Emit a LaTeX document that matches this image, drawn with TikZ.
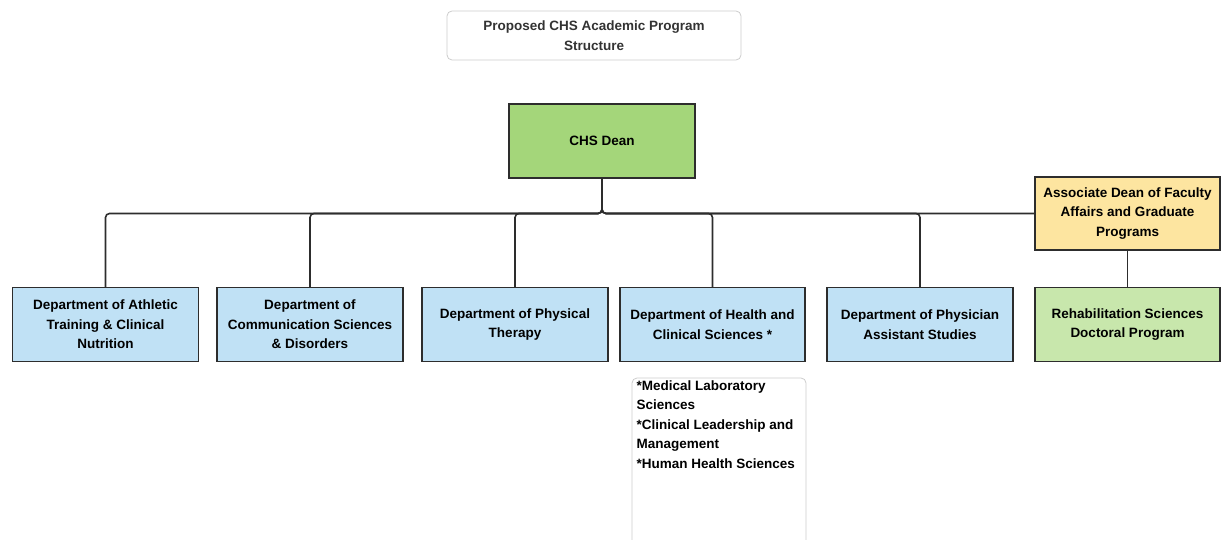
\documentclass[tikz,border=0pt]{standalone}
\usepackage{fontspec}
\setmainfont{Liberation Sans}
\usepackage{tikz}
\definecolor{deptblue}{RGB}{192,225,245}
\definecolor{deangreen}{RGB}{164,214,122}
\definecolor{progreen}{RGB}{200,231,172}
\definecolor{assocyellow}{RGB}{253,229,160}
\definecolor{edge}{RGB}{45,45,45}

\begin{document}
\begin{tikzpicture}[x = 1pt, y = -1pt, line width = 1.3pt,
                        every node/.style = {font = \fontsize{13.5}{19.5}\selectfont\bfseries, align = center},
                        unit/.style = {rectangle, draw = edge, minimum width = 186pt, minimum height = 74pt, inner sep = 2pt},
                        dept/.style = {unit, fill = deptblue},
                        link/.style = {draw = edge, line width = 1.6pt, rounded corners = 4pt},
                        note/.style = {rectangle, rounded corners = 5pt, draw = black!20, line width = 0.8pt}]
    \useasboundingbox (0, 0) rectangle (1223, 540);
    \node [note, text = black!80, minimum width = 294pt, minimum height = 49pt] (title) at (594, 35.5)
        {Proposed CHS Academic Program\\Structure};
    \node [unit, fill = deangreen] (dean) at (602, 141){CHS Dean};
    \node [unit, fill = assocyellow, minimum width = 185pt, minimum height = 73pt] (assoc) at (1127.5, 213.5)
        {Associate Dean of Faculty\\Affairs and Graduate\\Programs};
    \node [dept] (athl) at (105.5, 324.5){Department of Athletic\\Training \& Clinical\\Nutrition};
    \node [dept] (comm) at (310, 324.5){Department of\\Communication Sciences\\\& Disorders};
    \node [dept] (pt) at (515, 324.5){Department of Physical\\Therapy};
    \node [dept, minimum width = 185pt] (hlth) at (712.5, 324.5){Department of Health and\\Clinical Sciences *};
    \node [dept] (pa) at (920, 324.5){Department of Physician\\Assistant Studies};
    \node [unit, fill = progreen, minimum width = 185pt] (rehab) at (1127.5, 324.5)
        {Rehabilitation Sciences\\Doctoral Program};
    \node [note, minimum width = 174pt, minimum height = 172pt] (sub) at (719, 464){};
    \node [anchor = north west, align = left, inner sep = 0pt] (subtext) at (636, 380)
        {*Medical Laboratory\\Sciences\\*Clinical Leadership and\\Management\\*Human Health Sciences};
    \coordinate (trunk) at (602, 213.5);
    \foreach \d in {athl, comm, pt, hlth, pa}
        \draw [link] (dean.south) -- (dean.south |- trunk) -| (\d.north);
    \draw [link] (dean.south) -- (dean.south |- trunk) -- (assoc.west);
    \draw [link] (assoc.south) -- (rehab.north);
  \end{tikzpicture}
\end{document}
